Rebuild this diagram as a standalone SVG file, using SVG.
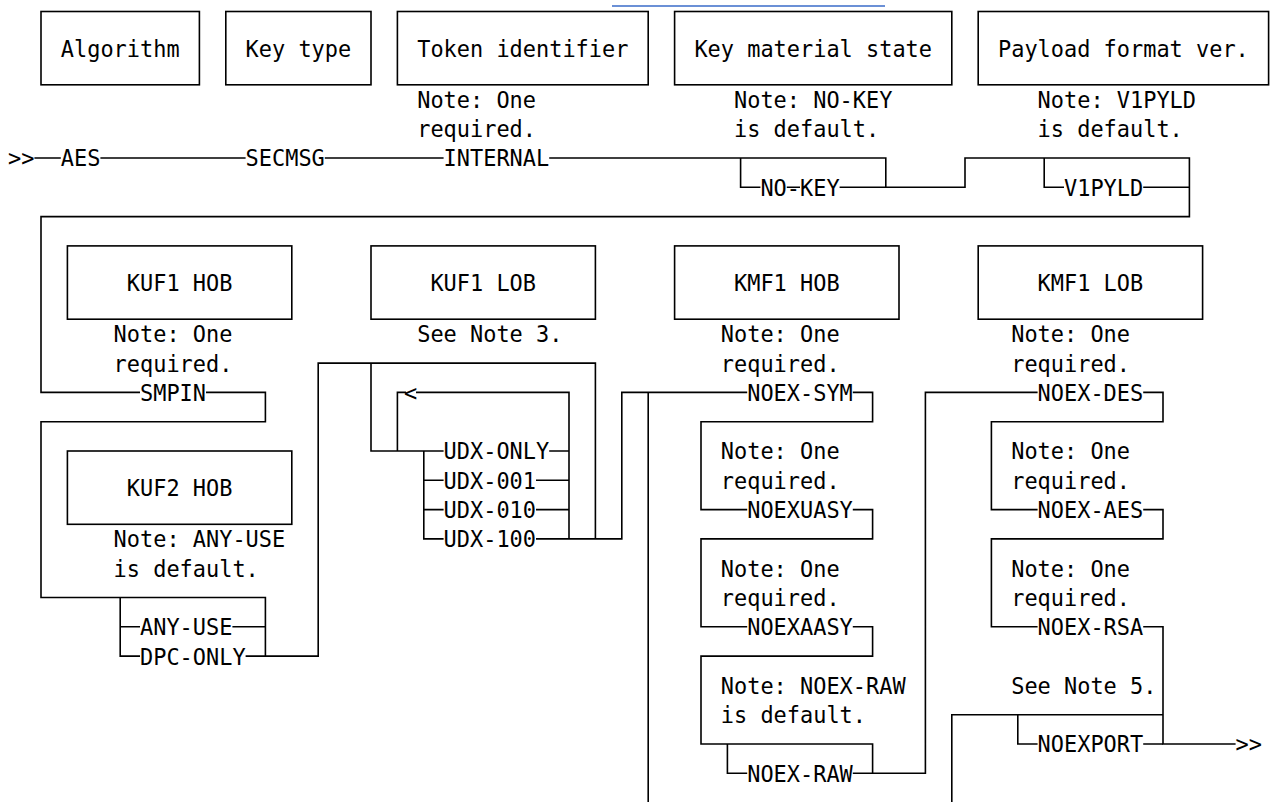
<svg xmlns="http://www.w3.org/2000/svg" width="1273" height="802" viewBox="0 0 1273 802">
<style>
text{font-family:"DejaVu Sans Mono","Liberation Mono",monospace;font-size:23px;fill:#000}
.box{fill:#fff;stroke:#000;stroke-width:1.6}
.ln{fill:none;stroke:#000;stroke-width:1.6}
</style>
<rect width="1273" height="802" fill="#fff"/>
<line x1="612" y1="6" x2="885" y2="6" stroke="#3a6bc9" stroke-width="1.6"/>
<g id="connectors" class="ln">
<path d="M34.4 158H60.8M100.4 158H245.6M324.8 158H443.6M549.2 158H885.8V187.3H965V158H1189.4V216.6H41V392.4H140"/>
<path d="M740.6 158V187.3H760.4M786.8 187.3H800M839.6 187.3H885.8"/>
<path d="M1044.2 158V187.3H1064M1143.2 187.3H1189.4"/>
<path d="M206 392.4H265.4V421.7H41V597.5H265.4V656.1"/>
<path d="M120.2 597.5V656.1H140M120.2 626.8H140M232.4 626.8H265.4M245.6 656.1H318.2V363.1H595.4V538.9"/>
<path d="M371 363.1V451H443.6M397.4 451V392.4H406M416 392.4H569V538.9"/>
<path d="M423.8 451V538.9H443.6M423.8 480.3H443.6M423.8 509.6H443.6"/>
<path d="M549.2 451H569M536 480.3H569M536 509.6H569M536 538.9H621.8V392.4H747.2"/>
<path d="M648.2 392.4V802"/>
<path d="M852.8 392.4H872.6V421.7H701V509.6H747.2M852.8 509.6H872.6V538.9H701V626.8H747.2M852.8 626.8H872.6V656.1H701V744H872.6V773.3H925.4V392.4H1037.6"/>
<path d="M727.4 744V773.3H747.2M852.8 773.3H872.6"/>
<path d="M1143.2 392.4H1163V421.7H991.4V509.6H1037.6M1143.2 509.6H1163V538.9H991.4V626.8H1037.6M1143.2 626.8H1163V744H1235.6"/>
<path d="M951.8 802V714.7H1163M1017.8 714.7V744H1037.6M1143.2 744H1163"/>
</g>
<g id="start"><text x="8" y="166.4" textLength="26.4" lengthAdjust="spacingAndGlyphs">&gt;&gt;</text></g>
<g id="algorithm"><rect class="box" x="41" y="11.5" width="158.4" height="73.3"/><text x="60.8" y="56.6" textLength="118.8" lengthAdjust="spacingAndGlyphs">Algorithm</text></g>
<g id="key-type"><rect class="box" x="225.8" y="11.5" width="145.2" height="73.3"/><text x="245.6" y="56.6" textLength="105.6" lengthAdjust="spacingAndGlyphs">Key type</text></g>
<g id="token-identifier"><rect class="box" x="397.4" y="11.5" width="250.8" height="73.3"/><text x="417.2" y="56.6" textLength="211.2" lengthAdjust="spacingAndGlyphs">Token identifier</text></g>
<g id="key-material-state"><rect class="box" x="674.6" y="11.5" width="277.2" height="73.3"/><text x="694.4" y="56.6" textLength="237.6" lengthAdjust="spacingAndGlyphs">Key material state</text></g>
<g id="payload-format"><rect class="box" x="978.2" y="11.5" width="290.4" height="73.3"/><text x="998" y="56.6" textLength="250.8" lengthAdjust="spacingAndGlyphs">Payload format ver.</text></g>
<g id="aes"><text x="60.8" y="166.4" textLength="39.6" lengthAdjust="spacingAndGlyphs">AES</text></g>
<g id="secmsg"><text x="245.6" y="166.4" textLength="79.2" lengthAdjust="spacingAndGlyphs">SECMSG</text></g>
<g id="internal"><text x="417.2" y="107.8" textLength="118.8" lengthAdjust="spacingAndGlyphs">Note: One</text><text x="417.2" y="137.1" textLength="118.8" lengthAdjust="spacingAndGlyphs">required.</text><text x="443.6" y="166.4" textLength="105.6" lengthAdjust="spacingAndGlyphs">INTERNAL</text></g>
<g id="no-key"><text x="734" y="107.8" textLength="158.4" lengthAdjust="spacingAndGlyphs">Note: NO-KEY</text><text x="734" y="137.1" textLength="145.2" lengthAdjust="spacingAndGlyphs">is default.</text><text x="760.4" y="195.7" textLength="79.2" lengthAdjust="spacingAndGlyphs">NO-KEY</text></g>
<g id="v1pyld"><text x="1037.6" y="107.8" textLength="158.4" lengthAdjust="spacingAndGlyphs">Note: V1PYLD</text><text x="1037.6" y="137.1" textLength="145.2" lengthAdjust="spacingAndGlyphs">is default.</text><text x="1064" y="195.7" textLength="79.2" lengthAdjust="spacingAndGlyphs">V1PYLD</text></g>
<g id="kuf1-hob"><rect class="box" x="67.4" y="245.9" width="224.4" height="73.3"/><text x="126.8" y="291" textLength="105.6" lengthAdjust="spacingAndGlyphs">KUF1 HOB</text></g>
<g id="kuf1-lob"><rect class="box" x="371" y="245.9" width="224.4" height="73.3"/><text x="430.4" y="291" textLength="105.6" lengthAdjust="spacingAndGlyphs">KUF1 LOB</text></g>
<g id="kmf1-hob"><rect class="box" x="674.6" y="245.9" width="224.4" height="73.3"/><text x="734" y="291" textLength="105.6" lengthAdjust="spacingAndGlyphs">KMF1 HOB</text></g>
<g id="kmf1-lob"><rect class="box" x="978.2" y="245.9" width="224.4" height="73.3"/><text x="1037.6" y="291" textLength="105.6" lengthAdjust="spacingAndGlyphs">KMF1 LOB</text></g>
<g id="smpin"><text x="113.6" y="342.2" textLength="118.8" lengthAdjust="spacingAndGlyphs">Note: One</text><text x="113.6" y="371.5" textLength="118.8" lengthAdjust="spacingAndGlyphs">required.</text><text x="140" y="400.8" textLength="66" lengthAdjust="spacingAndGlyphs">SMPIN</text></g>
<g id="kuf2-hob"><rect class="box" x="67.4" y="451" width="224.4" height="73.3"/><text x="126.8" y="496" textLength="105.6" lengthAdjust="spacingAndGlyphs">KUF2 HOB</text></g>
<g id="any-use"><text x="113.6" y="547.3" textLength="171.6" lengthAdjust="spacingAndGlyphs">Note: ANY-USE</text><text x="113.6" y="576.6" textLength="145.2" lengthAdjust="spacingAndGlyphs">is default.</text><text x="140" y="635.2" textLength="92.4" lengthAdjust="spacingAndGlyphs">ANY-USE</text></g>
<g id="dpc-only"><text x="140" y="664.5" textLength="105.6" lengthAdjust="spacingAndGlyphs">DPC-ONLY</text></g>
<g id="udx"><text x="417.2" y="342.2" textLength="145.2" lengthAdjust="spacingAndGlyphs">See Note 3.</text><text x="404" y="400.8" textLength="13.2" lengthAdjust="spacingAndGlyphs">&lt;</text>
<text x="443.6" y="459.4" textLength="105.6" lengthAdjust="spacingAndGlyphs">UDX-ONLY</text><text x="443.6" y="488.7" textLength="92.4" lengthAdjust="spacingAndGlyphs">UDX-001</text><text x="443.6" y="518" textLength="92.4" lengthAdjust="spacingAndGlyphs">UDX-010</text><text x="443.6" y="547.3" textLength="92.4" lengthAdjust="spacingAndGlyphs">UDX-100</text></g>
<g id="noex-sym"><text x="720.8" y="342.2" textLength="118.8" lengthAdjust="spacingAndGlyphs">Note: One</text><text x="720.8" y="371.5" textLength="118.8" lengthAdjust="spacingAndGlyphs">required.</text><text x="747.2" y="400.8" textLength="105.6" lengthAdjust="spacingAndGlyphs">NOEX-SYM</text></g>
<g id="noexuasy"><text x="720.8" y="459.4" textLength="118.8" lengthAdjust="spacingAndGlyphs">Note: One</text><text x="720.8" y="488.7" textLength="118.8" lengthAdjust="spacingAndGlyphs">required.</text><text x="747.2" y="518" textLength="105.6" lengthAdjust="spacingAndGlyphs">NOEXUASY</text></g>
<g id="noexaasy"><text x="720.8" y="576.6" textLength="118.8" lengthAdjust="spacingAndGlyphs">Note: One</text><text x="720.8" y="605.9" textLength="118.8" lengthAdjust="spacingAndGlyphs">required.</text><text x="747.2" y="635.2" textLength="105.6" lengthAdjust="spacingAndGlyphs">NOEXAASY</text></g>
<g id="noex-raw"><text x="720.8" y="693.8" textLength="184.8" lengthAdjust="spacingAndGlyphs">Note: NOEX-RAW</text><text x="720.8" y="723.1" textLength="145.2" lengthAdjust="spacingAndGlyphs">is default.</text><text x="747.2" y="781.7" textLength="105.6" lengthAdjust="spacingAndGlyphs">NOEX-RAW</text></g>
<g id="noex-des"><text x="1011.2" y="342.2" textLength="118.8" lengthAdjust="spacingAndGlyphs">Note: One</text><text x="1011.2" y="371.5" textLength="118.8" lengthAdjust="spacingAndGlyphs">required.</text><text x="1037.6" y="400.8" textLength="105.6" lengthAdjust="spacingAndGlyphs">NOEX-DES</text></g>
<g id="noex-aes"><text x="1011.2" y="459.4" textLength="118.8" lengthAdjust="spacingAndGlyphs">Note: One</text><text x="1011.2" y="488.7" textLength="118.8" lengthAdjust="spacingAndGlyphs">required.</text><text x="1037.6" y="518" textLength="105.6" lengthAdjust="spacingAndGlyphs">NOEX-AES</text></g>
<g id="noex-rsa"><text x="1011.2" y="576.6" textLength="118.8" lengthAdjust="spacingAndGlyphs">Note: One</text><text x="1011.2" y="605.9" textLength="118.8" lengthAdjust="spacingAndGlyphs">required.</text><text x="1037.6" y="635.2" textLength="105.6" lengthAdjust="spacingAndGlyphs">NOEX-RSA</text></g>
<g id="noexport"><text x="1011.2" y="693.8" textLength="145.2" lengthAdjust="spacingAndGlyphs">See Note 5.</text><text x="1037.6" y="752.4" textLength="105.6" lengthAdjust="spacingAndGlyphs">NOEXPORT</text></g>
<g id="end"><text x="1235.6" y="752.4" textLength="26.4" lengthAdjust="spacingAndGlyphs">&gt;&gt;</text></g>
</svg>
